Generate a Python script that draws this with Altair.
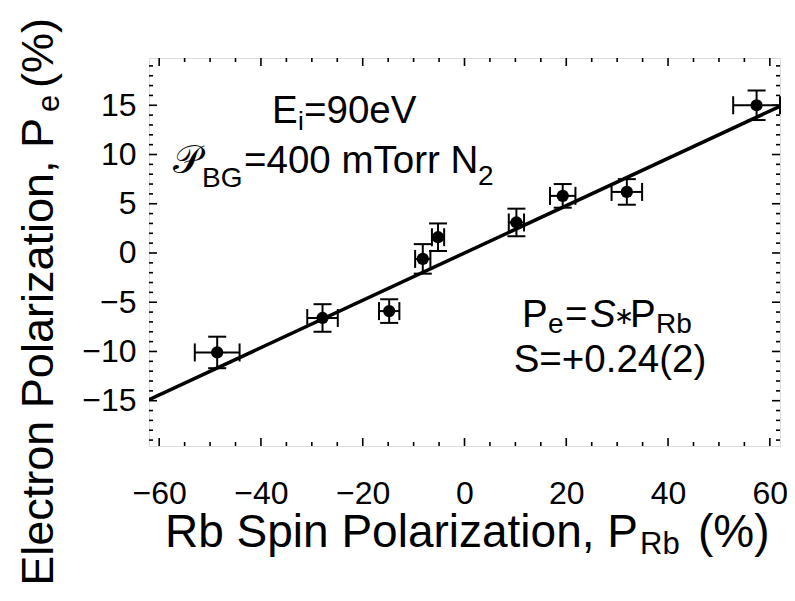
import altair as alt
import pandas as pd

# ---- data ----
x_vals = [-48.6, -27.9, -14.8, -8.2, -5.2, 10.2, 19.3, 31.9, 57.4]
y_vals = [-10.1, -6.6, -5.9, -0.6, 1.6, 3.1, 5.8, 6.2, 15.0]
x_errs = [4.4, 3.0, 2.0, 1.5, 1.2, 1.5, 2.5, 3.0, 4.6]
y_errs = [1.6, 1.4, 1.2, 1.5, 1.4, 1.4, 1.2, 1.3, 1.5]
fit_x = [-62, 62]
fit_y = [-14.9, 14.9]

x_major = [-60, -40, -20, 0, 20, 40, 60]
x_minor = [-55, -50, -45, -35, -30, -25, -15, -10, -5, 5, 10, 15, 25, 30, 35, 45, 50, 55]
y_major = [-15, -10, -5, 0, 5, 10, 15]
y_minor = [-19, -18, -17, -16, -14, -13, -12, -11, -9, -8, -7, -6, -4, -3, -2, -1,
           1, 2, 3, 4, 6, 7, 8, 9, 11, 12, 13, 14, 16, 17, 18, 19]

x_domain = [-62, 62]
y_domain = [-19.6, 19.8]

W, H = 631, 388
FONT = "Liberation Sans"

df = pd.DataFrame({"x": x_vals, "y": y_vals, "xe": x_errs, "ye": y_errs})
df["xlo"] = df["x"] - df["xe"]
df["xhi"] = df["x"] + df["xe"]
df["ylo"] = df["y"] - df["ye"]
df["yhi"] = df["y"] + df["ye"]

xs = alt.Scale(domain=x_domain, nice=False, zero=False)
ys = alt.Scale(domain=y_domain, nice=False, zero=False)

x_axis = alt.Axis(values=x_major, format="d", title=None, grid=False, ticks=False, tickSize=0,
                  domain=False, labelFont=FONT, labelFontSize=32, labelColor="black",
                  labelPadding=32, labelFlush=False, labelOverlap=False)
y_axis = alt.Axis(values=y_major, format="d", title=None, grid=False, ticks=False, tickSize=0,
                  domain=False, labelFont=FONT, labelFontSize=32, labelColor="black",
                  labelPadding=13, labelFlush=False, labelOverlap=False)


def X(f):
    return alt.X(f, scale=xs, axis=x_axis)


def Y(f):
    return alt.Y(f, scale=ys, axis=y_axis)


layers = []


# tick marks drawn inside the frame
def xticks(vals, length):
    d = pd.DataFrame({"v": vals})
    bot = alt.Chart(d).mark_rule(color="black", strokeWidth=1.6).encode(
        x=X("v:Q"), y=alt.value(H), y2=alt.value(H - length))
    top = alt.Chart(d).mark_rule(color="black", strokeWidth=1.6).encode(
        x=X("v:Q"), y=alt.value(0), y2=alt.value(length))
    return [bot, top]


def yticks(vals, length):
    d = pd.DataFrame({"v": vals})
    lef = alt.Chart(d).mark_rule(color="black", strokeWidth=1.6).encode(
        y=Y("v:Q"), x=alt.value(0), x2=alt.value(length))
    rig = alt.Chart(d).mark_rule(color="black", strokeWidth=1.6).encode(
        y=Y("v:Q"), x=alt.value(W), x2=alt.value(W - length))
    return [lef, rig]


layers += xticks(x_major, 8) + xticks(x_minor, 4) + yticks(y_major, 8) + yticks(y_minor, 4)

fit = alt.Chart(pd.DataFrame({"x": fit_x, "y": fit_y})).mark_line(
    color="black", strokeWidth=3.5, clip=True).encode(x=X("x:Q"), y=Y("y:Q"))
layers.append(fit)

base = alt.Chart(df)
xerr = base.mark_rule(color="black", strokeWidth=2).encode(x=X("xlo:Q"), x2="xhi:Q", y=Y("y:Q"))
yerr = base.mark_rule(color="black", strokeWidth=2).encode(x=X("x:Q"), y=Y("ylo:Q"), y2="yhi:Q")
cap_style = dict(color="black", thickness=2, size=18, opacity=1)
cxl = base.mark_tick(orient="vertical", **cap_style).encode(x=X("xlo:Q"), y=Y("y:Q"))
cxh = base.mark_tick(orient="vertical", **cap_style).encode(x=X("xhi:Q"), y=Y("y:Q"))
cyl = base.mark_tick(orient="horizontal", **cap_style).encode(x=X("x:Q"), y=Y("ylo:Q"))
cyh = base.mark_tick(orient="horizontal", **cap_style).encode(x=X("x:Q"), y=Y("yhi:Q"))
pts = base.mark_circle(color="black", size=150, opacity=1).encode(x=X("x:Q"), y=Y("y:Q"))
layers += [xerr, yerr, cxl, cxh, cyl, cyh, pts]

# ---- text pieces (text, x, y, size, align, angle, style) ----
texts = [
    # x-axis title
    ("Rb Spin Polarization, P", 489, 489, 46, "right", 0, "normal"),
    ("Rb", 491, 496, 31, "left", 0, "normal"),
    ("(%)", 549, 489, 46, "left", 0, "normal"),
    # y-axis title
    ("Electron Polarization, P", -96, 60, 45, "right", 270, "normal"),
    ("e", -90, 54, 31, "left", 270, "normal"),
    ("(%)", -96, 30, 45, "left", 270, "normal"),
    # annotation 1
    ("E", 123, 65, 38.5, "left", 0, "normal"),
    ("i", 149, 72, 26, "left", 0, "normal"),
    ("=90eV", 155, 65, 38.5, "left", 0, "normal"),
    # annotation 2
    ("\U0001D4AB", 52, 115, 38.5, "right", 0, "normal"),
    ("BG", 53, 129, 28, "left", 0, "normal"),
    ("=400 mTorr N", 95, 115, 38.5, "left", 0, "normal"),
    ("2", 329, 127, 28, "left", 0, "normal"),
    # annotation 3
    ("P", 373, 269, 38.5, "left", 0, "normal"),
    ("e", 399, 275, 28, "left", 0, "normal"),
    ("=", 416, 269, 38.5, "left", 0, "normal"),
    ("S", 441, 269, 38.5, "left", 0, "italic"),
    ("\u2217", 465, 266, 24, "left", 0, "normal"),
    ("P", 481, 269, 38.5, "left", 0, "normal"),
    ("Rb", 507, 275, 28, "left", 0, "normal"),
    # annotation 4
    ("S=+0.24(2)", 461, 314, 38.5, "center", 0, "normal"),
]

for (t, px, py, sz, al, ang, st) in texts:
    tc = alt.Chart(pd.DataFrame({"t": [t]})).mark_text(
        font=FONT, fontSize=sz, align=al, baseline="alphabetic", angle=ang,
        fontStyle=st, color="black").encode(
        x=alt.value(px), y=alt.value(py), text="t:N")
    layers.append(tc)

chart = alt.layer(*layers).properties(
    width=W, height=H,
    autosize=alt.AutoSizeParams(type="none"),
    padding={"left": 141, "top": 50, "right": 7, "bottom": 147},
).configure_view(stroke="black", strokeWidth=2.8).configure(background="white")

chart.save("out.html", embed_options={"renderer": "svg", "actions": False})
